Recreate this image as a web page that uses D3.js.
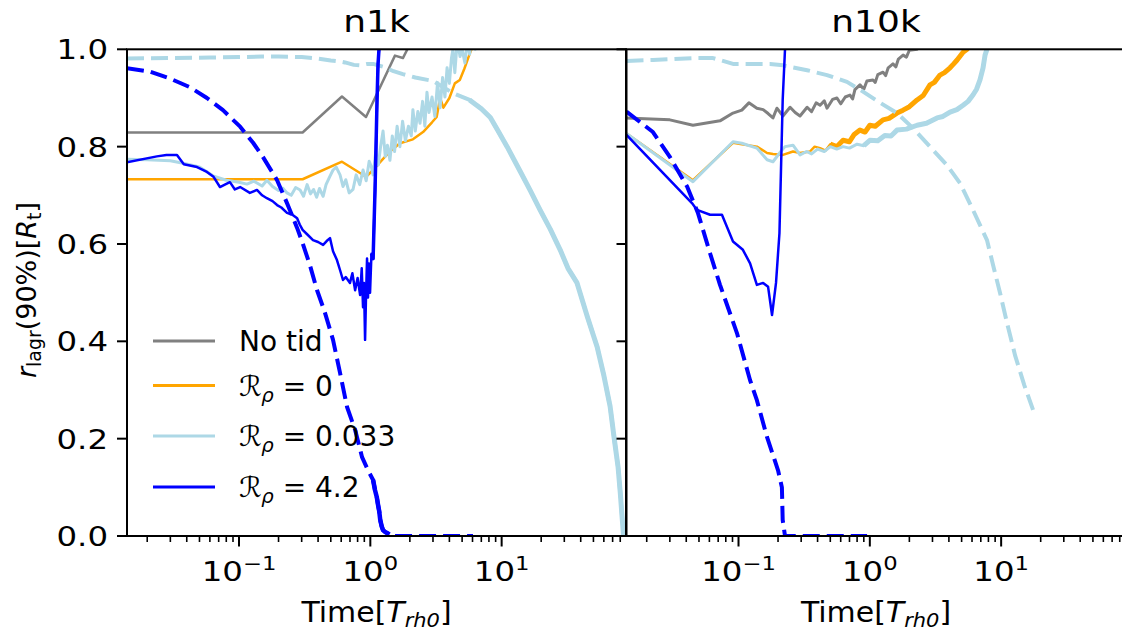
<!DOCTYPE html>
<html><head><meta charset="utf-8">
<script src="https://cdn.jsdelivr.net/npm/d3@7"></script>
<style>
html,body{margin:0;padding:0;background:#fff;overflow:hidden}
svg{display:block}
text{font-family:"DejaVu Sans",sans-serif;fill:#000}
</style></head><body>
<svg id="chart" width="1122" height="634"></svg>
<script>
// ---------------- data (time in T_rh0, r_lagr(90%) in R_t) ----------------
const panelTitles = ["n1k", "n10k"];
const yTicks = [0, 0.2, 0.4, 0.6, 0.8, 1.0];
const xMajorTicks = [0.1, 1, 10];
const xMajorLabels = [["10", "\u22121"], ["10", "0"], ["10", "1"]];
const legendLabels = ["No tid", "\u211B_\u03C1 = 0", "\u211B_\u03C1 = 0.033", "\u211B_\u03C1 = 4.2"];
const seriesColors = ["#808080", "#ffa500", "#add8e6", "#0000ff"];

// ---- n1k ----
const gray1k = [[0.01403,0.829],[0.305,0.829],[0.608,0.903],[0.927,0.861],[1.54,0.987],[1.77,0.982],[2.0,1.01],[2.3,1.04]];
const orange1k = [[0.01403,0.733],[0.305,0.733],[0.608,0.769],[0.927,0.738],[1.05,0.752],[1.25,0.775],[1.41,0.79],[1.68,0.807],[2.11,0.815],[2.52,0.83],[2.95,0.85],[3.2,0.861],[3.4,0.90],[3.6,0.88],[4.0,0.90],[4.4,0.93],[4.8,0.937],[5.2,0.96],[5.7,0.99],[6.5,1.03]];
const lb1k = [[0.01403,0.774],[0.02,0.773],[0.03,0.771],[0.0375,0.766],[0.05,0.758],[0.0634,0.740],[0.08,0.731],[0.1,0.727],[0.115,0.723],[0.13,0.729],[0.15,0.719],[0.163,0.731],[0.18,0.718],[0.2,0.710],[0.215,0.715],[0.232,0.705],[0.25,0.700],[0.27,0.716],[0.292,0.711],[0.31,0.698],[0.33,0.722],[0.35,0.703],[0.37,0.712],[0.39,0.696],[0.41,0.714],[0.437,0.698],[0.46,0.722],[0.49,0.738],[0.52,0.752],[0.55,0.758],[0.588,0.742],[0.62,0.718],[0.65,0.732],[0.69,0.705],[0.738,0.712],[0.78,0.742],[0.83,0.722],[0.88,0.752],[0.93,0.730],[0.98,0.770],[1.02,0.758],[1.05,0.742],[1.1,0.790],[1.15,0.762],[1.2,0.802],[1.25,0.832],[1.3,0.780],[1.35,0.803],[1.41,0.772],[1.47,0.822],[1.53,0.790],[1.6,0.842],[1.68,0.800],[1.76,0.852],[1.85,0.812],[1.95,0.842],[2.05,0.822],[2.11,0.876],[2.2,0.832],[2.3,0.872],[2.39,0.848],[2.5,0.893],[2.6,0.842],[2.7,0.912],[2.8,0.870],[2.95,0.902],[3.1,0.862],[3.25,0.932],[3.4,0.880],[3.55,0.942],[3.7,0.902],[3.84,0.962],[4.0,0.930],[4.15,0.982],[4.26,1.0],[4.4,0.952],[4.6,1.02],[4.82,0.985],[5.0,1.0],[5.25,0.972],[5.5,1.02],[5.7,0.99],[6.0,1.03],[6.3,1.0],[6.6,1.04],[6.85,1.01],[7.2,1.03],[7.6,1.02],[8.2,1.05]];
const lb1kDash = [[0.01403,0.981],[0.03,0.982],[0.06,0.983],[0.1,0.984],[0.15,0.985],[0.2,0.985],[0.3,0.984],[0.4,0.981],[0.5,0.977],[0.587,0.975],[0.641,0.973],[0.75,0.968],[0.836,0.967],[0.95,0.97],[1.05,0.97],[1.29,0.963],[1.5,0.955],[1.77,0.949],[2.2,0.942],[3.0,0.935],[3.6,0.922],[4.26,0.91],[5.7,0.896],[7.0,0.878],[8.2,0.86],[9.5,0.83],[11.0,0.80],[13.8,0.75],[16.5,0.71],[19.6,0.67],[23.5,0.63],[27.9,0.588],[32,0.55],[37.5,0.52],[45,0.45],[53.3,0.389],[60,0.33],[67,0.266],[72,0.2],[77,0.142],[80,0.09],[82.2,0.047],[84.8,0.0]];
const blue1k = [[0.01403,0.768],[0.0237,0.78],[0.028,0.783],[0.0337,0.783],[0.038,0.764],[0.0479,0.758],[0.057,0.748],[0.064,0.738],[0.0716,0.717],[0.078,0.722],[0.0853,0.727],[0.093,0.712],[0.102,0.717],[0.121,0.705],[0.137,0.711],[0.15,0.700],[0.163,0.694],[0.18,0.688],[0.195,0.68],[0.21,0.675],[0.232,0.664],[0.255,0.66],[0.277,0.653],[0.29,0.64],[0.305,0.629],[0.33,0.62],[0.366,0.608],[0.4,0.604],[0.437,0.598],[0.465,0.606],[0.493,0.612],[0.52,0.585],[0.557,0.567],[0.59,0.545],[0.619,0.526],[0.65,0.532],[0.700,0.52],[0.73,0.54],[0.766,0.505],[0.8,0.53],[0.836,0.495],[0.86,0.55],[0.88,0.47],[0.895,0.52],[0.912,0.403],[0.925,0.48],[0.944,0.57],[0.96,0.49],[0.975,0.56],[0.995,0.50],[1.02,0.58],[1.05,0.57],[1.07,0.65],[1.086,0.711],[1.105,0.80],[1.125,0.896],[1.145,0.97],[1.164,1.0],[1.18,1.05]];
const blue1kDash = [[0.01403,0.961],[0.021,0.954],[0.0298,0.94],[0.0424,0.922],[0.057,0.90],[0.0755,0.875],[0.102,0.841],[0.128,0.808],[0.152,0.779],[0.195,0.731],[0.232,0.684],[0.277,0.633],[0.305,0.602],[0.348,0.555],[0.393,0.505],[0.45,0.46],[0.52,0.403],[0.588,0.335],[0.665,0.265],[0.766,0.218],[0.865,0.162],[0.96,0.135],[1.05,0.115],[1.086,0.094],[1.12,0.08],[1.145,0.064],[1.17,0.05],[1.19,0.033],[1.22,0.02],[1.25,0.012],[1.3,0.008],[1.34,0.006],[1.4,0.003],[1.49,0.0],[6.05,0.0]];

// ---- n10k ----
const gray10k = [[0.01403,0.859],[0.030,0.855],[0.045,0.844],[0.0723,0.853],[0.0908,0.869],[0.106,0.875],[0.120,0.89],[0.138,0.879],[0.154,0.876],[0.168,0.868],[0.183,0.859],[0.196,0.879],[0.218,0.863],[0.247,0.881],[0.27,0.87],[0.294,0.863],[0.333,0.881],[0.36,0.872],[0.39,0.89],[0.418,0.885],[0.45,0.894],[0.472,0.879],[0.52,0.897],[0.562,0.9],[0.6,0.888],[0.65,0.902],[0.706,0.906],[0.74,0.898],[0.77,0.917],[0.841,0.927],[0.9,0.918],[0.95,0.935],[1.057,0.937],[1.1,0.932],[1.15,0.948],[1.26,0.953],[1.32,0.946],[1.38,0.962],[1.50,0.97],[1.58,0.964],[1.65,0.98],[1.79,0.988],[1.9,0.984],[2.0,0.998],[2.29,1.0],[2.5,1.02]];
const orange10k = [[0.01403,0.827],[0.045,0.731],[0.0908,0.808],[0.106,0.805],[0.138,0.80],[0.165,0.787],[0.183,0.785],[0.218,0.783],[0.26,0.79],[0.294,0.787],[0.35,0.79],[0.38,0.80],[0.418,0.797],[0.46,0.792],[0.5,0.805],[0.56,0.80],[0.625,0.813],[0.7,0.81],[0.76,0.825],[0.841,0.834],[0.92,0.83],[1.0,0.844],[1.1,0.842],[1.26,0.855],[1.4,0.858],[1.61,0.869],[1.79,0.875],[2.0,0.882],[2.29,0.896],[2.55,0.905],[2.87,0.927],[3.1,0.932],[3.42,0.947],[3.7,0.952],[4.08,0.962],[4.35,0.97],[4.62,0.978],[5.13,0.994],[5.5,1.0],[6.0,1.02]];
const lb10k = [[0.01403,0.827],[0.045,0.728],[0.0908,0.81],[0.106,0.807],[0.138,0.797],[0.165,0.773],[0.183,0.769],[0.21,0.79],[0.226,0.80],[0.26,0.803],[0.294,0.783],[0.33,0.79],[0.36,0.785],[0.4,0.795],[0.45,0.79],[0.5,0.80],[0.56,0.795],[0.625,0.80],[0.7,0.797],[0.8,0.805],[0.9,0.802],[1.0,0.813],[1.15,0.812],[1.3,0.823],[1.45,0.822],[1.61,0.834],[1.9,0.836],[2.29,0.844],[2.7,0.848],[3.25,0.859],[3.6,0.862],[4.08,0.871],[4.6,0.876],[5.13,0.885],[5.6,0.893],[6.1,0.906],[6.5,0.918],[6.9,0.937],[7.28,0.962],[7.54,0.988],[7.8,1.0],[8.0,1.03]];
const lb10kDash = [[0.01403,0.976],[0.0223,0.978],[0.0483,0.982],[0.064,0.982],[0.0908,0.97],[0.174,0.97],[0.218,0.967],[0.333,0.957],[0.472,0.947],[0.67,0.933],[0.887,0.913],[1.2,0.89],[1.61,0.869],[2.13,0.838],[2.87,0.80],[3.87,0.762],[4.86,0.725],[6.1,0.67],[7.8,0.608],[8.8,0.55],[9.8,0.50],[11.1,0.437],[12.8,0.37],[15,0.31],[17.5,0.259]];
const blue10k = [[0.01403,0.824],[0.0442,0.684],[0.0483,0.67],[0.0607,0.66],[0.0748,0.66],[0.0908,0.605],[0.108,0.588],[0.1225,0.56],[0.138,0.516],[0.154,0.52],[0.168,0.512],[0.18,0.454],[0.193,0.52],[0.205,0.622],[0.217,0.896],[0.226,1.0],[0.235,1.05]];
const blue10kDash = [[0.01403,0.872],[0.0223,0.83],[0.030,0.779],[0.0406,0.718],[0.0492,0.663],[0.0607,0.581],[0.0723,0.516],[0.0973,0.417],[0.1225,0.32],[0.138,0.279],[0.165,0.203],[0.20,0.135],[0.214,0.10],[0.217,0.033],[0.226,0.0],[0.953,0.0]];

// ---------------- layout / style ----------------
const FS_TICK = 27, SX_TICK = 1.2;
const FS_TITLE = 30, SX_TITLE = 1.2;
const FS_LABEL = 28, SX_LABEL = 1.07;
const FS_YLABEL = 27;
const FS_LEG = 28;
const yTop = 49.3, yBot = 536;
const panelX = [[127, 626], [626.5, 1125.5]];
const xDomain = [0.01403, 88.5];

const svg = d3.select("#chart");
const y = d3.scaleLinear().domain([0, 1]).range([yBot, yTop]);

function styleText(t, x, yy, size, anchor, sx) {
  return t.attr("transform", `translate(${x},${yy}) scale(${sx || 1},1)`)
    .attr("font-size", size).attr("text-anchor", anchor || "middle");
}

const panelSeries = [
  [
    {d: gray1k, c: 0, w: 2.5},
    {d: orange1k, c: 1, w: 2.5},
    {d: lb1k, c: 2, w: 3},
    {d: lb1kDash, c: 2, w: 4, dash: "17,7", solid: [4.5, 100], sw: 5},
    {d: blue1k, c: 3, w: 2.5, thick: [1.0, 1.2], tw: 3.5},
    {d: blue1kDash, c: 3, w: 4, dash: "17,7", solid: [1.05, 1.45], sw: 4.5},
  ],
  [
    {d: gray10k, c: 0, w: 3},
    {d: orange10k, c: 1, w: 2.5, thick: [0.5, 6], tw: 5},
    {d: lb10k, c: 2, w: 3, thick: [0.9, 8], tw: 5},
    {d: lb10kDash, c: 2, w: 4, dash: "17,7"},
    {d: blue10k, c: 3, w: 2.5},
    {d: blue10kDash, c: 3, w: 4, dash: "17,7"},
  ]
];

panelX.forEach((px, pi) => {
  const x = d3.scaleLog().domain(xDomain).range(px);
  const g = svg.append("g");
  const clipId = "clip" + pi;
  svg.append("defs").append("clipPath").attr("id", clipId)
    .append("rect").attr("x", px[0]).attr("y", yTop).attr("width", px[1] - px[0]).attr("height", yBot - yTop);

  const plot = g.append("g").attr("clip-path", `url(#${clipId})`);
  const line = d3.line().x(d => x(d[0])).y(d => y(d[1]));
  panelSeries[pi].forEach(s => {
    const col = seriesColors[s.c];
    plot.append("path").attr("d", line(s.d)).attr("fill", "none").attr("stroke", col)
      .attr("stroke-width", s.w).attr("stroke-dasharray", s.dash || null)
      .attr("stroke-linejoin", "round");
    if (s.solid) {
      plot.append("path").attr("d", line(s.d.filter(p => p[0] >= s.solid[0] && p[0] <= s.solid[1])))
        .attr("fill", "none").attr("stroke", col).attr("stroke-width", s.sw).attr("stroke-linejoin", "round");
    }
    if (s.thick) {
      plot.append("path").attr("d", line(s.d.filter(p => p[0] >= s.thick[0] && p[0] <= s.thick[1])))
        .attr("fill", "none").attr("stroke", col).attr("stroke-width", s.tw).attr("stroke-linejoin", "round");
    }
  });

  // spines
  g.append("rect").attr("x", px[0]).attr("y", yTop).attr("width", px[1] - px[0]).attr("height", yBot - yTop)
    .attr("fill", "none").attr("stroke", "#000").attr("stroke-width", 2);

  // y ticks (outward, on left spine)
  yTicks.forEach(v => {
    g.append("line").attr("x1", px[0] - 10).attr("x2", px[0]).attr("y1", y(v)).attr("y2", y(v))
      .attr("stroke", "#000").attr("stroke-width", 2);
    if (pi === 0) {
      styleText(g.append("text"), px[0] - 19, y(v) + 10, FS_TICK, "end", SX_TICK).text(v.toFixed(1));
    }
  });

  // x minor ticks
  const minors = [];
  for (let e = -2; e <= 1; e++) for (let m = 2; m <= 9; m++) {
    const v = m * Math.pow(10, e);
    if (v > xDomain[0] && v < xDomain[1]) minors.push(v);
  }
  minors.forEach(v => {
    g.append("line").attr("x1", x(v)).attr("x2", x(v)).attr("y1", yBot).attr("y2", yBot + 6)
      .attr("stroke", "#000").attr("stroke-width", 1.6);
  });
  xMajorTicks.forEach((v, i) => {
    g.append("line").attr("x1", x(v)).attr("x2", x(v)).attr("y1", yBot).attr("y2", yBot + 10.5)
      .attr("stroke", "#000").attr("stroke-width", 2);
    const t = styleText(g.append("text"), x(v), 581, FS_TICK, "middle", SX_TICK);
    t.append("tspan").text(xMajorLabels[i][0]);
    t.append("tspan").attr("font-size", FS_TICK * 0.7).attr("dy", -11).text(xMajorLabels[i][1]);
  });

  // title
  styleText(g.append("text"), (px[0] + px[1]) / 2, 32, FS_TITLE, "middle", SX_TITLE).text(panelTitles[pi]);

  // x label
  const xl = styleText(g.append("text"), (px[0] + px[1]) / 2, 622, FS_LABEL, "middle", SX_LABEL);
  xl.append("tspan").text("Time[");
  xl.append("tspan").attr("font-style", "italic").text("T");
  xl.append("tspan").attr("font-style", "italic").attr("font-size", FS_LABEL * 0.7).attr("dy", 5).text("rh0");
  xl.append("tspan").attr("dy", -5).text("]");
});

// y label
const yl = svg.append("text").attr("transform", "translate(36,290) rotate(-90)")
  .attr("font-size", FS_YLABEL).attr("text-anchor", "middle");
yl.append("tspan").attr("font-style", "italic").text("r");
yl.append("tspan").attr("font-size", FS_YLABEL * 0.7).attr("dy", 5).text("lagr");
yl.append("tspan").attr("dy", -5).text("(90%)[");
yl.append("tspan").attr("font-style", "italic").text("R");
yl.append("tspan").attr("font-size", FS_YLABEL * 0.7).attr("dy", 5).text("t");
yl.append("tspan").attr("dy", -5).text("]");

// legend
const legY = [341, 385.5, 436, 487];
const leg = svg.append("g");
legendLabels.forEach((lab, i) => {
  leg.append("line").attr("x1", 153).attr("x2", 215).attr("y1", legY[i]).attr("y2", legY[i])
    .attr("stroke", seriesColors[i]).attr("stroke-width", 3);
  const t = styleText(leg.append("text"), 239, legY[i] + 10, FS_LEG, "start", 1);
  if (lab.indexOf("_") < 0) { t.text(lab); return; }
  const parts = lab.split("_");
  t.append("tspan").attr("font-style", "italic").text(parts[0]);
  t.append("tspan").attr("font-style", "italic").attr("font-size", FS_LEG * 0.7).attr("dy", 6).text(parts[1][0]);
  t.append("tspan").attr("dy", -6).text(parts[1].slice(1));
});
</script>
</body></html>
